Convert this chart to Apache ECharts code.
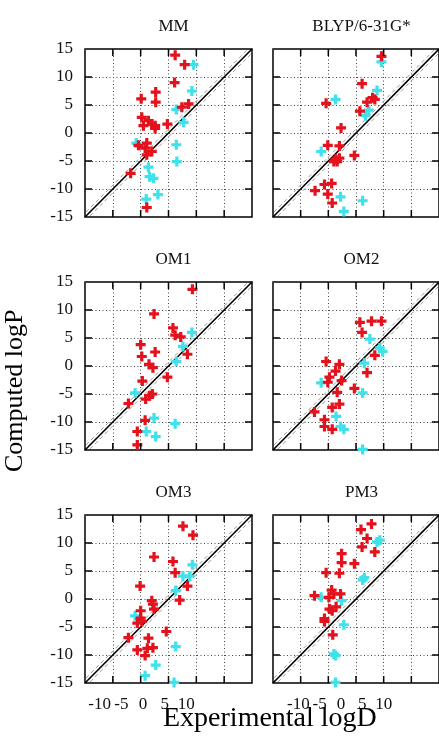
<!DOCTYPE html>
<html>
<head>
<meta charset="utf-8">
<script src="https://cdn.jsdelivr.net/npm/echarts@6/dist/echarts.min.js"></script>
<style>
  html, body { margin: 0; padding: 0; background: #fff; }
  #chart { width: 439px; height: 744px; }
</style>
</head>
<body>
<div id="chart"></div>
<script>
// panel titles, left to right, top to bottom
const panelNames = ['MM', 'BLYP/6-31G*', 'OM1', 'OM2', 'OM3', 'PM3'];

// axis range, tick values + identity line band
const axisRange = [-15, 15];
const tickStep = 5;
const tickValues = [-10, -5, 0, 5, 10];
const bandOffset = 0.7;

// [experimental logD, computed logP]
const mmRed = [[1.2,13.9],[2.9,12.2],[1.1,9.0],[-2.3,7.3],[-2.3,5.5],[-4.9,6.1],[2.4,4.6],[3.6,5.2],
  [-4.8,2.8],[-3.6,2.2],[-4.5,1.3],[-2.4,1.3],[-3.0,1.6],[-2.4,0.8],[-0.2,1.6],[-5.4,-2.2],
  [-3.9,-1.8],[-4.2,-2.7],[-3.9,-3.9],[-3.0,-3.3],[-6.8,-7.2],[-3.9,-13.3]];
const mmCyan = [[4.5,12.2],[4.2,7.5],[1.4,4.2],[2.7,1.9],[1.4,-2.1],[1.5,-5.1],[-5.8,-1.8],
  [-3.6,-6.1],[-3.4,-7.8],[-2.7,-8.1],[-1.9,-11.0],[-4.0,-11.8]];

const blypRed = [[4.6,13.7],[1.1,8.8],[-5.4,5.3],[3.0,6.3],[3.4,6.0],[2.0,5.5],[0.7,3.9],[-2.7,0.9],
  [-5.1,-2.2],[-3.0,-2.3],[-3.7,-4.7],[-3.4,-5.1],[-3.0,-4.5],[-4.0,-5.1],[-0.3,-4.0],[-4.4,-9.0],
  [-5.7,-9.2],[-7.4,-10.3],[-5.1,-10.9],[-4.3,-12.5]];
const blypCyan = [[4.6,12.7],[3.8,7.6],[-3.7,6.0],[2.3,4.1],[1.7,3.1],[-6.3,-3.3],[-2.8,-11.4],
  [1.2,-12.1],[-2.2,-14.0]];

const om1Red = [[4.3,13.7],[-2.6,9.3],[0.8,6.8],[1.2,5.5],[2.2,5.2],[-5.0,3.8],[-4.8,1.7],[-2.4,2.5],
  [3.4,2.1],[-3.5,0.3],[-2.8,-0.3],[-0.2,-2.0],[-4.7,-2.7],[-2.9,-5.0],[-3.4,-5.3],[-4.1,-5.9],
  [-7.2,-6.7],[-4.2,-9.7],[-5.6,-11.7],[-5.6,-14.1]];
const om1Cyan = [[4.2,6.0],[2.6,3.5],[1.4,0.8],[-6.0,-4.8],[-2.6,-9.3],[-4.0,-11.7],[-2.3,-12.6],
  [1.2,-10.3]];

const om2Red = [[0.7,7.8],[2.8,8.0],[4.6,8.0],[1.1,6.0],[3.4,1.9],[2.0,-1.2],[-5.4,0.8],[-3.0,0.3],
  [-3.7,-0.9],[-4.8,-2.0],[-5.1,-2.9],[-2.6,-2.6],[-3.4,-4.7],[-0.3,-4.0],[-3.0,-6.8],[-4.3,-7.4],
  [-7.5,-8.2],[-5.7,-9.6],[-5.7,-10.8],[-4.3,-11.3]];
const om2Cyan = [[2.5,4.8],[4.3,3.2],[4.8,2.6],[1.5,0.5],[-6.3,-3.0],[1.2,-4.8],[-3.6,-9.0],
  [-2.8,-10.8],[-2.2,-11.3],[1.2,-14.9]];

const om3Red = [[2.6,13.0],[4.4,11.4],[-2.6,7.5],[0.8,6.7],[1.2,4.7],[3.4,2.3],[-5.1,2.3],[2.0,-0.2],
  [-3.0,-0.3],[-2.8,-0.9],[-2.6,-1.8],[-5.0,-2.1],[-5.0,-3.4],[-5.6,-4.3],[-4.8,-4.0],[-0.4,-5.8],
  [-7.2,-6.9],[-3.6,-7.0],[-3.8,-8.8],[-2.8,-8.7],[-5.6,-9.1],[-4.2,-10.1]];
const om3Cyan = [[4.3,6.1],[2.6,4.1],[3.8,4.1],[1.3,1.5],[-6.0,-3.0],[1.3,-8.5],[-2.3,-11.8],
  [-4.2,-13.7],[1.0,-14.9]];

const pm3Red = [[2.8,13.4],[0.9,12.4],[2.0,10.8],[1.1,9.3],[3.4,8.4],[-2.6,8.1],[-2.6,6.5],[-0.3,6.3],
  [-5.4,4.7],[-3.0,4.6],[-7.5,0.6],[-4.4,1.6],[-4.0,0.9],[-2.8,0.9],[-4.9,0.3],[-3.6,-1.4],
  [-4.8,-1.8],[-4.3,-2.1],[-5.7,-3.5],[-5.7,-4.0],[-4.2,-6.4]];
const pm3Cyan = [[4.3,10.5],[3.8,10.2],[1.2,3.4],[1.5,3.8],[-6.3,0.3],[-2.6,-0.3],[-2.2,-4.6],
  [-4.0,-9.8],[-3.7,-10.1],[-3.7,-14.9]];

const redSets = [mmRed, blypRed, om1Red, om2Red, om3Red, pm3Red];
const cyanSets = [mmCyan, blypCyan, om1Cyan, om2Cyan, om3Cyan, pm3Cyan];

const FONT = 'Liberation Serif';
const RED = '#e3121c';
const CYAN = '#3fe2ea';
const PLUS = 'path://M3.4,0h3.2v3.4h3.4v3.2h-3.4v3.4h-3.2v-3.4h-3.4v-3.2h3.4z';

const colLeft = [85, 273];
const rowTop = [49, 282, 515];
const panelW = 167, panelH = 168;
const tickLen = 7;

const grid = [], xAxis = [], yAxis = [], series = [], title = [];
const panelAxes = [];
const dotted = { show: true, lineStyle: { color: '#444', width: 1, type: [1, 2.5] } };

const valueAxis = (gi, extra) => Object.assign({
  gridIndex: gi, type: 'value', min: axisRange[0], max: axisRange[1], interval: tickStep,
  axisLine: { show: false, onZero: false }, axisTick: { show: false },
  axisLabel: { show: false }, splitLine: { show: false }
}, extra || {});

panelNames.forEach((name, i) => {
  const col = i % 2, row = Math.floor(i / 2);
  const L = colLeft[col], T = rowTop[row];
  const gi = grid.length;
  grid.push({ left: L, top: T, width: panelW, height: panelH,
    show: true, borderColor: '#000', borderWidth: 1.5 });
  xAxis.push(valueAxis(gi, { splitLine: dotted }));
  yAxis.push(valueAxis(gi, {
    splitLine: dotted,
    axisLabel: { show: col === 0, margin: 12, fontFamily: FONT, fontSize: 17, color: '#111' }
  }));
  const ax = xAxis.length - 1, ay = yAxis.length - 1;
  panelAxes.push({ xAxisIndex: ax, yAxisIndex: ay });

  title.push({
    text: name, left: L + panelW / 2, top: T - 36, textAlign: 'center',
    textStyle: { fontFamily: FONT, fontSize: 17, fontWeight: 'normal', color: '#111' }
  });

  const lo = axisRange[0], hi = axisRange[1];
  const lineDefs = [
    { d: [[lo - bandOffset, lo], [hi, hi + bandOffset]], c: '#9a9a9a', w: 1, t: [4, 3] },
    { d: [[lo, lo - bandOffset], [hi + bandOffset, hi]], c: '#9a9a9a', w: 1, t: [4, 3] },
    { d: [[lo, lo], [hi, hi]], c: '#000', w: 1.6, t: 'solid' }
  ];
  lineDefs.forEach(l => series.push({
    type: 'line', xAxisIndex: ax, yAxisIndex: ay, data: l.d, symbol: 'none',
    silent: true, clip: true, lineStyle: { color: l.c, width: l.w, type: l.t }, z: 2
  }));
  series.push({
    type: 'scatter', xAxisIndex: ax, yAxisIndex: ay, data: cyanSets[i],
    symbol: PLUS, symbolSize: 10, itemStyle: { color: CYAN, opacity: 1 }, z: 3
  });
  series.push({
    type: 'scatter', xAxisIndex: ax, yAxisIndex: ay, data: redSets[i],
    symbol: PLUS, symbolSize: 10, itemStyle: { color: RED, opacity: 1 }, z: 4
  });
});

// the reference's x tick labels sit on a narrower scale than the panels
const labelGrids = [{ left: 78, width: 130 }, { left: 277, width: 128 }];
labelGrids.forEach(g => {
  const gi = grid.length;
  grid.push({ left: g.left, top: rowTop[2] + panelH, width: g.width, height: 1, show: false });
  xAxis.push(valueAxis(gi, {
    axisLabel: { show: true, showMinLabel: false, showMaxLabel: false, margin: 12,
      fontFamily: FONT, fontSize: 17, color: '#111' }
  }));
  yAxis.push({ gridIndex: gi, type: 'value', show: false, min: 0, max: 1 });
});

const chart = echarts.init(document.getElementById('chart'), null, { renderer: 'canvas' });
chart.setOption({
  animation: false,
  backgroundColor: '#fff',
  title: title,
  grid: grid,
  xAxis: xAxis,
  yAxis: yAxis,
  series: series
});

// inward tick marks on all four edges, positioned through each panel's scales
const graphics = [
  {
    type: 'text', left: 163, top: 705,
    style: { text: 'Experimental logD', fontFamily: FONT, fontSize: 28, fill: '#000' }
  },
  {
    type: 'text', rotation: Math.PI / 2, x: 2, y: 472,
    style: { text: 'Computed logP', fontFamily: FONT, fontSize: 26, fill: '#000',
      textAlign: 'left', textVerticalAlign: 'top' }
  }
];
const tickStyle = { stroke: '#000', lineWidth: 1.5 };
panelAxes.forEach(finder => {
  const lo = axisRange[0], hi = axisRange[1];
  tickValues.forEach(t => {
    const b = chart.convertToPixel(finder, [t, lo]);
    const top = chart.convertToPixel(finder, [t, hi]);
    const l = chart.convertToPixel(finder, [lo, t]);
    const r = chart.convertToPixel(finder, [hi, t]);
    [
      [b[0], b[1], b[0], b[1] - tickLen],
      [top[0], top[1], top[0], top[1] + tickLen],
      [l[0], l[1], l[0] + tickLen, l[1]],
      [r[0], r[1], r[0] - tickLen, r[1]]
    ].forEach(s => graphics.push({
      type: 'line', silent: true, z: 10,
      shape: { x1: s[0], y1: s[1], x2: s[2], y2: s[3] }, style: tickStyle
    }));
  });
});
chart.setOption({ graphic: graphics });
</script>
</body>
</html>
